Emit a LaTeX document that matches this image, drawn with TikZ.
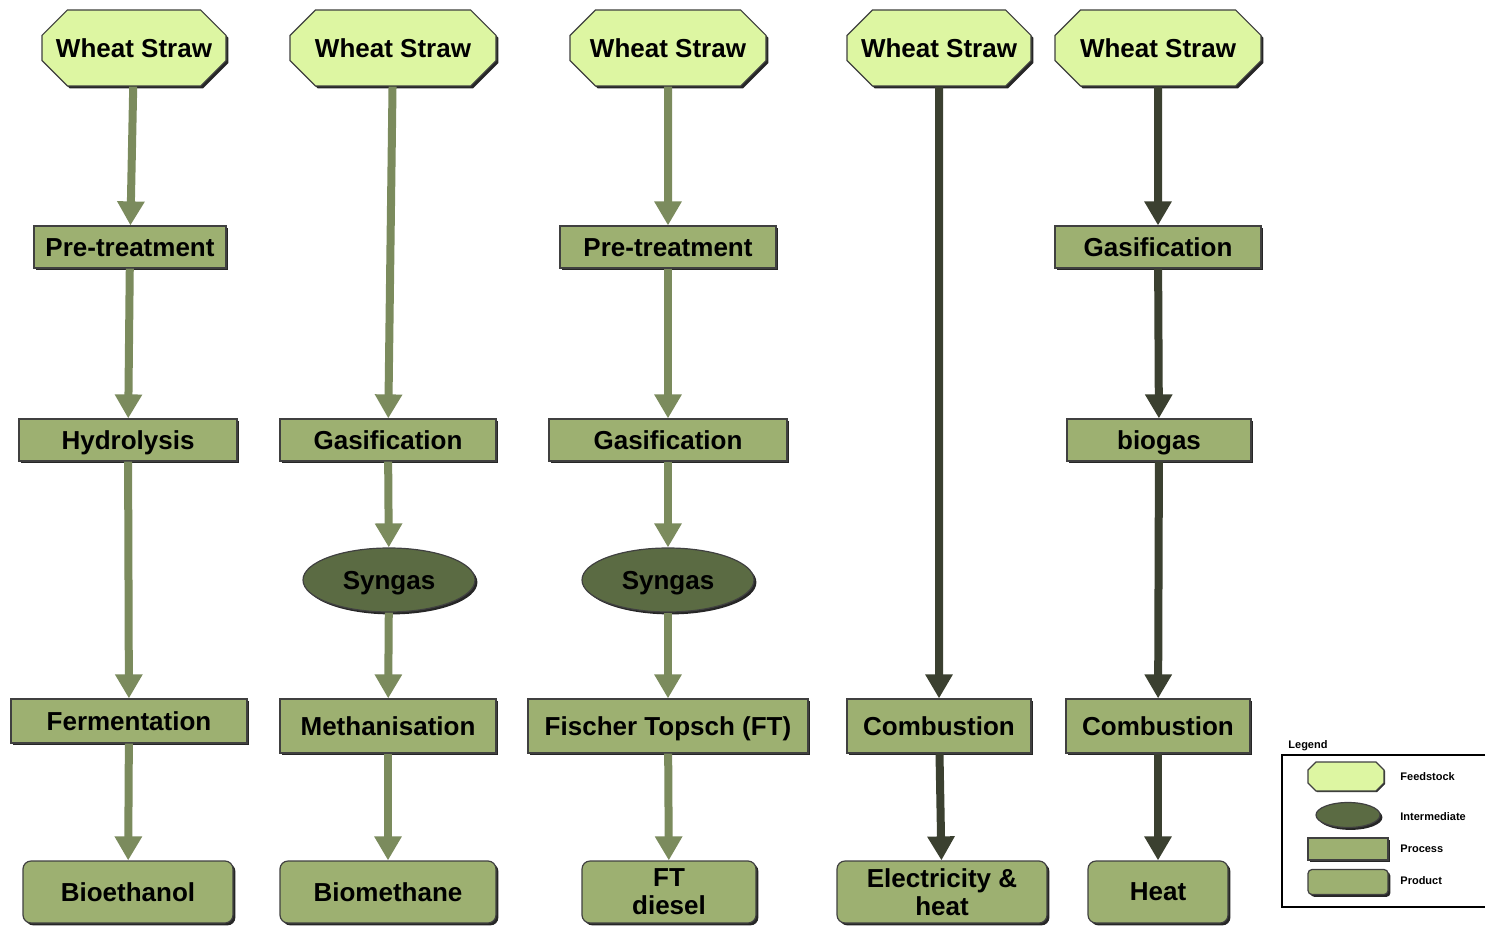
\documentclass[tikz,border=0pt]{standalone}
\usepackage{fontspec}
\setmainfont{Liberation Sans}
\usetikzlibrary{shapes.misc,shapes.geometric,arrows.meta,shadows}
\definecolor{feedc}{HTML}{DDF6A2}
\definecolor{procc}{HTML}{9DB071}
\definecolor{interc}{HTML}{5B6B43}
\definecolor{arrl}{HTML}{7B8B5D}
\definecolor{arrd}{HTML}{3B4030}
\tikzset{
  base/.style={inner sep=0pt, draw=black!75, line width=0.6pt, align=center,
    font=\fontsize{13}{14}\selectfont\bfseries,
    drop shadow={shadow xshift=1.2pt, shadow yshift=-1.2pt, fill=black!85, opacity=1}},
  oneline/.style={text height=9.4pt, text depth=0pt},
  feed/.style={base, oneline, chamfered rectangle, chamfered rectangle xsep=8pt, chamfered rectangle ysep=8pt, fill=feedc},
  proc/.style={base, oneline, rectangle, fill=procc},
  inter/.style={base, oneline, ellipse, fill=interc},
  prod/.style={base, rectangle, rounded corners=4pt, fill=procc},
  la/.style={-{Triangle[width=13pt,length=12pt]}, line width=4pt, draw=arrl},
  da/.style={-{Triangle[width=13pt,length=12pt]}, line width=4pt, draw=arrd},
  legtxt/.style={font=\fontsize{5.5}{6}\selectfont\bfseries, anchor=west, inner sep=0pt},
  legshadow/.style={drop shadow={shadow xshift=0.5pt, shadow yshift=-0.5pt, fill=black!85, opacity=1}}
}
\begin{document}
\begin{tikzpicture}[x=0.5pt,y=-0.5pt]
\useasboundingbox (0,0) rectangle (1486,925);
% column 1
\node[feed, minimum width=92pt, minimum height=38pt] (ws1) at (134,48) {Wheat Straw};
\node[proc, minimum width=96pt, minimum height=21pt] (pt1) at (130,247) {Pre-treatment};
\node[proc, minimum width=109pt, minimum height=21pt] (hy1) at (128,440) {Hydrolysis};
\node[proc, minimum width=118pt, minimum height=22pt] (fe1) at (129,721) {Fermentation};
\node[prod, minimum width=105pt, minimum height=31pt] (bi1) at (128,892) {Bioethanol};
\draw[la] (ws1) -- (pt1);
\draw[la] (pt1) -- (hy1);
\draw[la] (hy1) -- (fe1);
\draw[la] (fe1) -- (bi1);
% column 2
\node[feed, minimum width=103pt, minimum height=38pt] (ws2) at (393,48) {Wheat Straw};
\node[proc, minimum width=108pt, minimum height=21pt] (ga2) at (388,440) {Gasification};
\node[inter, minimum width=86pt, minimum height=32pt] (sy2) at (389,580) {Syngas};
\node[proc, minimum width=108pt, minimum height=27pt] (me2) at (388,726) {Methanisation};
\node[prod, minimum width=108pt, minimum height=31pt] (bm2) at (388,892) {Biomethane};
\draw[la] (ws2) -- (ga2);
\draw[la] (ga2) -- (sy2);
\draw[la] (sy2) -- (me2);
\draw[la] (me2) -- (bm2);
% column 3
\node[feed, minimum width=98pt, minimum height=38pt] (ws3) at (668,48) {Wheat Straw};
\node[proc, minimum width=108pt, minimum height=21pt] (pt3) at (668,247) {Pre-treatment};
\node[proc, minimum width=119pt, minimum height=21pt] (ga3) at (668,440) {Gasification};
\node[inter, minimum width=86pt, minimum height=32pt] (sy3) at (668,580) {Syngas};
\node[proc, minimum width=140pt, minimum height=27pt] (ft3) at (668,726) {Fischer Topsch (FT)};
\node[prod, minimum width=87pt, minimum height=31pt] (fd3) at (669,892) {FT\\diesel};
\draw[la] (ws3) -- (pt3);
\draw[la] (pt3) -- (ga3);
\draw[la] (ga3) -- (sy3);
\draw[la] (sy3) -- (ft3);
\draw[la] (ft3) -- (fd3);
% column 4
\node[feed, minimum width=92pt, minimum height=38pt] (ws4) at (939,48) {Wheat Straw};
\node[proc, minimum width=92pt, minimum height=27pt] (co4) at (939,726) {Combustion};
\node[prod, minimum width=105pt, minimum height=31pt] (el4) at (942,892) {Electricity \&\\heat};
\draw[da] (ws4) -- (co4);
\draw[da] (co4) -- (el4);
% column 5
\node[feed, minimum width=103pt, minimum height=38pt] (ws5) at (1158,48) {Wheat Straw};
\node[proc, minimum width=103pt, minimum height=21pt] (ga5) at (1158,247) {Gasification};
\node[proc, minimum width=92pt, minimum height=21pt] (bg5) at (1159,440) {biogas};
\node[proc, minimum width=92pt, minimum height=27pt] (co5) at (1158,726) {Combustion};
\node[prod, minimum width=70pt, minimum height=31pt] (he5) at (1158,892) {Heat};
\draw[da] (ws5) -- (ga5);
\draw[da] (ga5) -- (bg5);
\draw[da] (bg5) -- (co5);
\draw[da] (co5) -- (he5);
% legend
\node[legtxt] (legt) at (1288,746) {Legend};
\draw[line width=0.6pt] (1485,755) -- (1282,755) -- (1282,907) -- (1485,907);
\filldraw[fill=feedc, draw=black!75, line width=0.6pt, legshadow]
  (1316,762) -- (1376,762) -- (1384,770) -- (1384,783) -- (1376,791)
  -- (1316,791) -- (1308,783) -- (1308,770) -- cycle;
\node[inter, minimum width=32pt, minimum height=12.5pt, text height=0pt, text depth=0pt, legshadow] (li) at (1348,815) {};
\node[proc, minimum width=40pt, minimum height=11pt, text height=0pt, text depth=0pt, legshadow] (lp) at (1348,849) {};
\node[prod, minimum width=40pt, minimum height=12.5pt, rounded corners=2pt, legshadow] (lr) at (1348,882) {};
\node[legtxt] (lft) at (1400,777) {Feedstock};
\node[legtxt] (lit) at (1400,817) {Intermediate};
\node[legtxt] (lpt) at (1400,849) {Process};
\node[legtxt] (lrt) at (1400,881) {Product};
\end{tikzpicture}
\end{document}
